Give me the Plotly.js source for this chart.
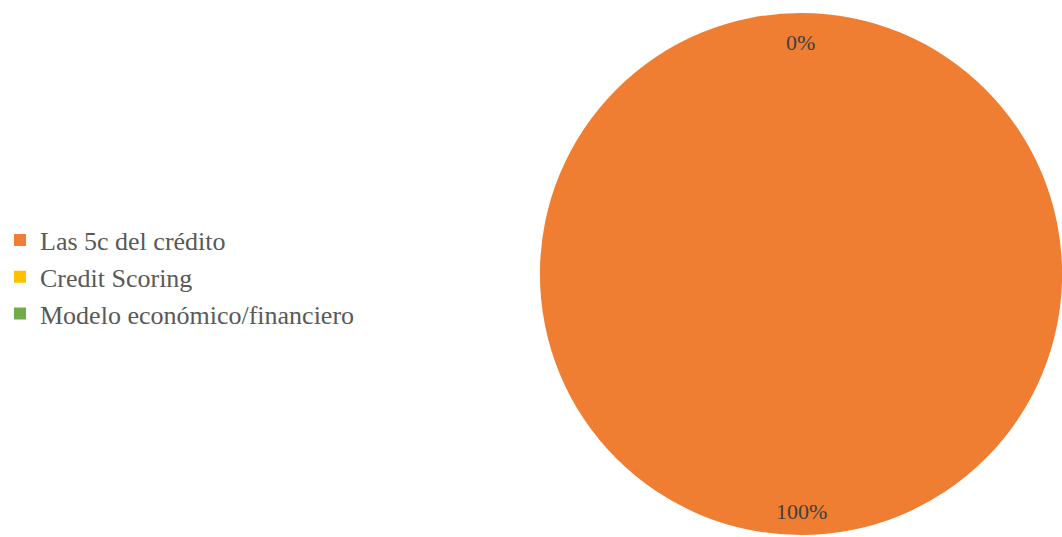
<!DOCTYPE html>
<html>
<head>
<meta charset="utf-8">
<script src="https://cdn.plot.ly/plotly-3.0.1.min.js"></script>
<style>html,body{margin:0;padding:0;background:#fff;}#chart{width:1062px;height:537px;}</style>
</head>
<body>
<div id="chart"></div>
<script>
const categories = ["Las 5c del crédito", "Credit Scoring", "Modelo económico/financiero"];
const values = [100, 0, 0];
const colors = ["#EF7E32", "#FFC000", "#70AD47"];

const W = 1062, H = 537;
const dom = {x: [540 / 1062, 1], y: [0, 1 - 11 / 537]};
const total = values.reduce((a, b) => a + b, 0);

// label positions derived from slice mid-angles (clockwise from 12 o'clock)
const cxp = (dom.x[0] + dom.x[1]) / 2 * W;
const cyp = (1 - (dom.y[0] + dom.y[1]) / 2) * H;
const R = Math.min((dom.x[1] - dom.x[0]) * W, (dom.y[1] - dom.y[0]) * H) / 2;
const annotations = [];
const seen = new Set();
let cum = 0;
values.forEach((v, i) => {
  const frac = v / total;
  const mid = (cum + frac / 2) * 2 * Math.PI;
  cum += frac;
  const pct = Math.round(frac * 100) + "%";
  const px = cxp + 0.9 * R * Math.sin(mid);
  const py = cyp - 0.9 * R * Math.cos(mid);
  const key = Math.round(px) + "," + Math.round(py);
  if (seen.has(key)) return;
  seen.add(key);
  annotations.push({
    x: px / W, y: 1 - py / H, xref: "paper", yref: "paper",
    xanchor: "center", yanchor: "middle",
    text: pct, showarrow: false, yshift: -3,
    font: {family: "Liberation Serif, Times New Roman, serif", size: 22, color: "#404040"}
  });
});

const data = [{
  type: "pie",
  labels: categories,
  values: values,
  sort: false,
  direction: "clockwise",
  rotation: 0,
  textinfo: "none",
  hoverinfo: "label+percent",
  marker: {colors: colors, line: {width: 0}},
  domain: dom,
  showlegend: true
}];

const layout = {
  width: W, height: H,
  margin: {l: 0, r: 0, t: 0, b: 0},
  paper_bgcolor: "#ffffff",
  showlegend: true,
  legend: {
    x: 0, y: 1 - 277 / H, xanchor: "left", yanchor: "middle",
    font: {family: "Liberation Serif, Times New Roman, serif", size: 26, color: "#595959"},
    bgcolor: "rgba(0,0,0,0)"
  },
  annotations: annotations
};

Plotly.newPlot("chart", data, layout, {displayModeBar: false, staticPlot: true});
</script>
</body>
</html>
